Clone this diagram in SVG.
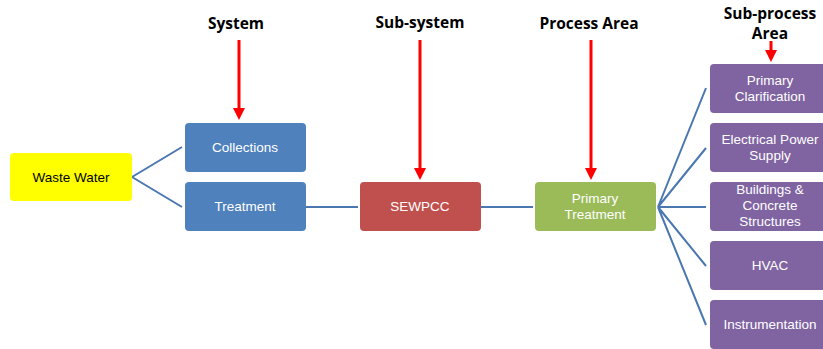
<svg xmlns="http://www.w3.org/2000/svg" width="823" height="349" viewBox="0 0 823 349">
<style>
.box{stroke:none}
.t{font-family:"Liberation Sans",Arial,sans-serif;font-size:13.5px;fill:#ffffff;text-anchor:middle}
.h{font-family:"Open Sans","Liberation Sans",sans-serif;font-size:15.5px;font-weight:bold;fill:#000;text-anchor:middle}
.c{stroke:#4A77B0;stroke-width:2;fill:none}
.r{stroke:#FF0000;stroke-width:3;fill:none}
</style>
<defs>
<marker id="ah" markerWidth="4" markerHeight="4" refX="2" refY="2" orient="auto" markerUnits="strokeWidth">
<path d="M0,0 L4,2 L0,4 Z" fill="#FF0000"/>
</marker>
</defs>
<rect width="823" height="349" fill="#ffffff"/>
<g id="headers">
<text class="h" x="236" y="29">System</text>
<text class="h" x="420" y="28">Sub-system</text>
<text class="h" x="589" y="29">Process Area</text>
<text class="h" x="770" y="19"><tspan x="770" y="19">Sub-process</tspan><tspan x="770" y="39">Area</tspan></text>
</g>
<g id="connectors">
<path class="c" d="M132,177 L182,147 M132,177 L182,207"/>
<path class="c" d="M306,207 L358,207 M481,207 L533,207"/>
<path class="c" d="M658,207 L706,88 M658,207 L706,148 M658,207 L706,207 M658,207 L706,266 M658,207 L706,325"/>
<path class="r" d="M239,40 L239,114" marker-end="url(#ah)"/>
<path class="r" d="M420,40 L420,174" marker-end="url(#ah)"/>
<path class="r" d="M591,40 L591,174" marker-end="url(#ah)"/>
<path class="r" d="M771,41 L771,56" marker-end="url(#ah)"/>
</g>
<g id="waste-water">
<rect class="box" x="10" y="153" width="122" height="48" rx="4" fill="#FFFF00"/>
<text class="t" x="71" y="182" style="fill:#000">Waste Water</text>
</g>
<g id="collections">
<rect class="box" x="185" y="123" width="121" height="49" rx="4" fill="#4F81BD"/>
<text class="t" x="245" y="152">Collections</text>
</g>
<g id="treatment">
<rect class="box" x="185" y="182" width="121" height="49" rx="4" fill="#4F81BD"/>
<text class="t" x="245" y="211">Treatment</text>
</g>
<g id="sewpcc">
<rect class="box" x="360" y="182" width="121" height="49" rx="4" fill="#C0504D"/>
<text class="t" x="420" y="211">SEWPCC</text>
</g>
<g id="primary-treatment">
<rect class="box" x="535" y="182" width="121" height="49" rx="4" fill="#9BBB59"/>
<text class="t" x="595" y="203"><tspan x="595" y="203">Primary</tspan><tspan x="595" y="219">Treatment</tspan></text>
</g>
<g id="primary-clarification">
<rect class="box" x="710" y="64" width="121" height="49" rx="4" fill="#8064A2"/>
<text class="t" x="770" y="85"><tspan x="770" y="85">Primary</tspan><tspan x="770" y="101">Clarification</tspan></text>
</g>
<g id="electrical-power-supply">
<rect class="box" x="710" y="123" width="121" height="49" rx="4" fill="#8064A2"/>
<text class="t" x="770" y="144"><tspan x="770" y="144">Electrical Power</tspan><tspan x="770" y="160">Supply</tspan></text>
</g>
<g id="buildings">
<rect class="box" x="710" y="182" width="121" height="49" rx="4" fill="#8064A2"/>
<text class="t" x="770" y="194"><tspan x="770" y="194">Buildings &amp;</tspan><tspan x="770" y="210">Concrete</tspan><tspan x="770" y="226">Structures</tspan></text>
</g>
<g id="hvac">
<rect class="box" x="710" y="241" width="121" height="49" rx="4" fill="#8064A2"/>
<text class="t" x="770" y="270">HVAC</text>
</g>
<g id="instrumentation">
<rect class="box" x="710" y="300" width="121" height="49" rx="4" fill="#8064A2"/>
<text class="t" x="770" y="329">Instrumentation</text>
</g>
</svg>
